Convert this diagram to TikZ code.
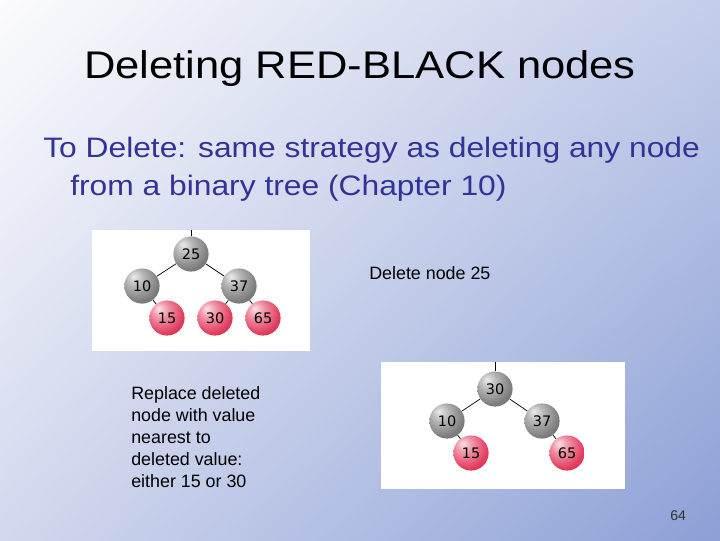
\documentclass[tikz,border=0pt]{standalone}
\usepackage{fontspec}
\setmainfont{Liberation Sans}
\newfontfamily\widefont[FakeStretch=1.13]{Liberation Sans}
\newfontfamily\ballfont{DejaVu Sans}
\usepackage{tikz}
\usetikzlibrary{positioning,shadings}
\definecolor{slidetext}{RGB}{51,51,150}
\definecolor{bgtl}{RGB}{252,252,253}
\definecolor{bgtr}{RGB}{196,205,234}
\definecolor{bgbl}{RGB}{210,216,238}
\definecolor{bgbr}{RGB}{140,160,214}
\definecolor{nodered}{RGB}{226,58,92}
\definecolor{nodegrey}{RGB}{124,124,124}
\pgfdeclareradialshading{redball}{\pgfpoint{-12bp}{14bp}}{color(0bp)=(nodered!15!white); color(12bp)=(nodered!55!white); color(30bp)=(nodered); color(50bp)=(nodered!85!black); color(66bp)=(nodered!60!black)}
\pgfdeclareradialshading{greyball}{\pgfpoint{-12bp}{14bp}}{color(0bp)=(nodegrey!15!white); color(12bp)=(nodegrey!55!white); color(30bp)=(nodegrey); color(50bp)=(nodegrey!80!black); color(66bp)=(nodegrey!55!black)}
\tikzstyle{blacknode} = [circle, minimum size=25, inner sep=0pt, shade, shading=greyball, font=\ballfont\fontsize{10.3}{11}\selectfont]
\tikzstyle{rednode} = [circle, minimum size=25, inner sep=0pt, shade, shading=redball, font=\ballfont\fontsize{10.3}{11}\selectfont]
\tikzstyle{edge} = [draw=black, line width=0.5pt]
\tikzstyle{caption} = [anchor=base west, inner sep=0pt, font=\fontsize{12.7}{15.6}\selectfont, align=left]

\begin{document}
\begin{tikzpicture}[x=0.025cm, y=-0.025cm]
      % slide background
      \shade[upper left=bgtl, upper right=bgtr, lower left=bgbl, lower right=bgbr] (0,0) rectangle (720,540);
      \useasboundingbox (0,0) rectangle (720,540);
      \node (title)[anchor=base, inner sep=0pt, font=\widefont\fontsize{27.4}{32}\selectfont] at (360,78) {Deleting RED-BLACK nodes};
      \node (line1)[anchor=base west, inner sep=0pt, text=slidetext, font=\widefont\fontsize{20}{24}\selectfont] at (43,157) {To Delete: same strategy as deleting any node};
      \node (line2)[anchor=base west, inner sep=0pt, text=slidetext, font=\widefont\fontsize{20}{24}\selectfont] at (70,195) {from a binary tree (Chapter 10)};
      % tree before
      \fill[white] (92,230) rectangle (310,351);
      \coordinate (top1) at (191,230);
      \node (a25)[blacknode] at (191,254) {25};
      \node (a10)[blacknode] at (142,286) {10};
      \node (a37)[blacknode] at (239,286) {37};
      \node (a15)[rednode] at (167,318) {15};
      \node (a30)[rednode] at (215,318) {30};
      \node (a65)[rednode] at (263,318) {65};
      \draw [edge](top1)--(a25);
      \draw [edge](a25)--(a10);
      \draw [edge](a25)--(a37);
      \draw [edge](a10)--(a15);
      \draw [edge](a37)--(a30);
      \draw [edge](a37)--(a65);
      \node (del)[caption] at (369,279) {Delete node 25};
      % tree after
      \fill[white] (381,362) rectangle (625,489);
      \coordinate (top2) at (495,362);
      \node (b30)[blacknode] at (495,389) {30};
      \node (b10)[blacknode] at (447,421) {10};
      \node (b37)[blacknode] at (542,421) {37};
      \node (b15)[rednode] at (471,453) {15};
      \node (b65)[rednode] at (567,453) {65};
      \draw [edge](top2)--(b30);
      \draw [edge](b30)--(b10);
      \draw [edge](b30)--(b37);
      \draw [edge](b10)--(b15);
      \draw [edge](b37)--(b65);
      \node (rep)[caption] at (131,487) {Replace deleted\\node with value\\nearest to\\deleted value:\\either 15 or 30};
      \node (page)[anchor=base west, inner sep=0pt, font=\fontsize{10}{12}\selectfont, text=black!80] at (670,520) {64};
\end{tikzpicture}
\end{document}
